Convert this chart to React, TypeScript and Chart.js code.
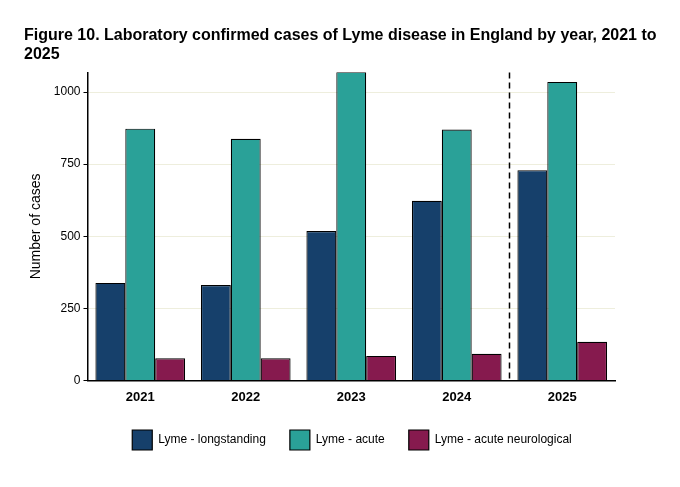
import React, { useEffect, useRef } from "react";
import { Chart, registerables } from "chart.js";
Chart.register(...registerables);

const years = ["2021", "2022", "2023", "2024", "2025"];
const longstanding = [338, 331, 518, 623, 729];
const acute = [873, 838, 1070, 870, 1035];
const neuro = [77, 77, 85, 92, 134];
const yTicks = [0, 250, 500, 750, 1000];

const dashPlugin = {
  id: "dash",
  afterDatasetsDraw(chart: any) {
    const x = (chart.scales.x.getPixelForValue(3) + chart.scales.x.getPixelForValue(4)) / 2;
    const { top, bottom } = chart.chartArea;
    const ctx = chart.ctx;
    ctx.save();
    ctx.strokeStyle = "#000";
    ctx.lineWidth = 1.5;
    ctx.setLineDash([6, 4]);
    ctx.beginPath();
    ctx.moveTo(x, top);
    ctx.lineTo(x, bottom);
    ctx.stroke();
    ctx.restore();
  },
};

export default function App() {
  const ref = useRef<HTMLCanvasElement>(null);
  useEffect(() => {
    const font = "'Liberation Sans', Arial, sans-serif";
    const mk = (label: string, data: number[], color: string) => ({
      label, data, backgroundColor: color, borderColor: "#000", borderWidth: 1.2,
      barPercentage: 1, categoryPercentage: 0.85,
    });
    const chart = new Chart(ref.current!, {
      type: "bar",
      data: {
        labels: years,
        datasets: [
          mk("Lyme - longstanding", longstanding, "#16406b"),
          mk("Lyme - acute", acute, "#2aa198"),
          mk("Lyme - acute neurological", neuro, "#861a4e"),
        ],
      },
      options: {
        animation: false,
        responsive: false,
        layout: { padding: { left: 24, right: 0, top: 0, bottom: 27 } },
        plugins: {
          title: {
            display: true, align: "start", color: "#000",
            text: ["Figure 10. Laboratory confirmed cases of Lyme disease in England by year, 2021 to", "2025"],
            font: { family: font, size: 16, weight: "bold" }, padding: { top: 26, bottom: 8 },
          },
          legend: {
            position: "bottom", labels: {
              color: "#000", font: { family: font, size: 12 }, boxWidth: 20, boxHeight: 20, padding: 24,
            },
          },
          tooltip: { enabled: false },
        },
        scales: {
          x: {
            grid: { display: false },
            border: { color: "#000", width: 1.5 },
            ticks: { color: "#000", padding: 1, font: { family: font, size: 13, weight: "bold" } },
          },
          y: {
            min: 0, max: 1068,
            afterBuildTicks: (s: any) => { s.ticks = yTicks.map((v) => ({ value: v })); },
            grid: { color: "#eeeedd", drawTicks: true, tickColor: "#000", tickLength: 4 },
            border: { color: "#000", width: 1.5 },
            ticks: { color: "#000", font: { family: font, size: 12 }, callback: (v: any) => String(v) },
            title: { display: true, text: "Number of cases", color: "#000", font: { family: font, size: 14 }, padding: { bottom: 6 } },
          },
          y2: {
            position: "right",
            grid: { display: false },
            border: { display: false },
            ticks: { display: false },
            afterFit: (s: any) => { s.width = 65; },
          },
        },
      },
      plugins: [dashPlugin],
    } as any);
    return () => chart.destroy();
  }, []);
  return (
    <div style={{ position: "fixed", left: 0, top: 0, width: 680, height: 487, background: "#fff" }}>
      <canvas ref={ref} width={680} height={487} style={{ width: 680, height: 487 }} />
    </div>
  );
}
